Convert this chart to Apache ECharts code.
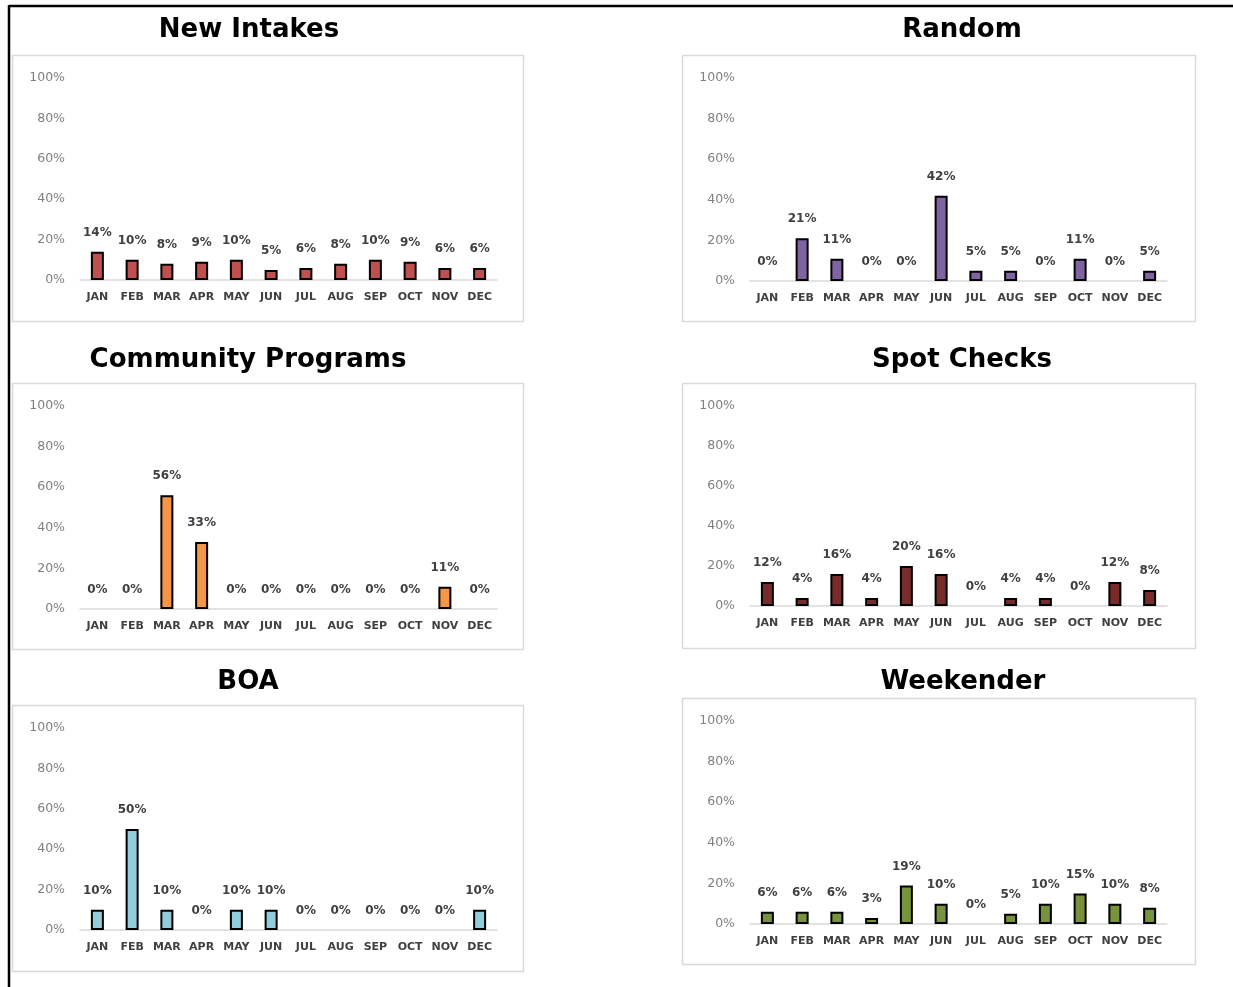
<!DOCTYPE html>
<html><head><meta charset="utf-8">
<script src="https://cdn.jsdelivr.net/npm/echarts@6/dist/echarts.min.js"></script>
<style>html,body{margin:0;padding:0;background:#fff}#c{width:1233px;height:987px}</style>
</head><body><div id="c"></div>
<script>
const months = ['JAN','FEB','MAR','APR','MAY','JUN','JUL','AUG','SEP','OCT','NOV','DEC'];
const yTicks = [0,20,40,60,80,100];
const newIntakes = [14,10,8,9,10,5,6,8,10,9,6,6];
const random = [0,21,11,0,0,42,5,5,0,11,0,5];
const communityPrograms = [0,0,56,33,0,0,0,0,0,0,11,0];
const spotChecks = [12,4,16,4,20,16,0,4,4,0,12,8];
const boa = [10,50,10,0,10,10,0,0,0,0,0,10];
const weekender = [6,6,6,3,19,10,0,5,10,15,10,8];

const panels = [
  {name:'New Intakes', data:newIntakes, color:'#C0504D', box:[12,55,511,266], grid:[80,78,417,202], tx:249, ty:28},
  {name:'Random', data:random, color:'#8064A2', box:[682,55,513,266], grid:[750,78,417,203], tx:962, ty:28},
  {name:'Community Programs', data:communityPrograms, color:'#F79646', box:[12,383,511,266], grid:[80,406,417,203], tx:248, ty:358},
  {name:'Spot Checks', data:spotChecks, color:'#772C2A', box:[682,383,513,265], grid:[750,406,417,200], tx:962, ty:358},
  {name:'BOA', data:boa, color:'#92CDDC', box:[12,705,511,266], grid:[80,728,417,202], tx:248, ty:680},
  {name:'Weekender', data:weekender, color:'#77933C', box:[682,698,513,266], grid:[750,721,417,203], tx:963, ty:680}
];

const graphic = [];
panels.forEach(p => {
  graphic.push({type:'rect', shape:{x:p.box[0]+0.5, y:p.box[1]+0.5, width:p.box[2], height:p.box[3]},
    style:{fill:'#fff', stroke:'#D9D9D9', lineWidth:1.5}, z:-10});
});
graphic.push({type:'line', shape:{x1:9, y1:6, x2:1233, y2:6}, style:{stroke:'#000', lineWidth:2.5}, z:10});
graphic.push({type:'line', shape:{x1:9, y1:5, x2:9, y2:987}, style:{stroke:'#000', lineWidth:2.5}, z:10});

const option = {
  animation:false,
  backgroundColor:'#fff',
  graphic: graphic,
  title: panels.map(p => ({
    text:p.name, left:p.tx, top:p.ty-11, textAlign:'center', padding:0,
    textStyle:{fontFamily:'DejaVu Sans', fontWeight:'bold', fontSize:26, color:'#000'}
  })),
  grid: panels.map(p => ({left:p.grid[0], top:p.grid[1], width:p.grid[2], height:p.grid[3], containLabel:false})),
  xAxis: panels.map((p,i) => ({
    type:'category', gridIndex:i, data:months,
    axisLine:{lineStyle:{color:'#D9D9D9', width:1.5}},
    axisTick:{show:false},
    axisLabel:{margin:12, fontFamily:'DejaVu Sans', fontWeight:'bold', fontSize:11, color:'#404040', interval:0}
  })),
  yAxis: panels.map((p,i) => ({
    type:'value', gridIndex:i, min:yTicks[0], max:yTicks[yTicks.length-1], interval:20,
    splitLine:{show:false}, axisLine:{show:false}, axisTick:{show:false},
    axisLabel:{margin:15, formatter:'{value}%', fontFamily:'DejaVu Sans', fontSize:12.5, color:'#808080'}
  })),
  series: panels.map((p,i) => ({
    type:'bar', xAxisIndex:i, yAxisIndex:i, barWidth:13,
    data: p.data.map(v => v === 0 ? {value:v, itemStyle:{borderWidth:0, opacity:0}, label:{show:true, opacity:1}} : v),
    itemStyle:{color:p.color, borderColor:'#000', borderWidth:2},
    label:{show:true, position:'top', distance:13, formatter:'{c}%', fontFamily:'DejaVu Sans', fontWeight:'bold', fontSize:12, color:'#404040'}
  }))
};
echarts.init(document.getElementById('c'), null, {renderer:'canvas'}).setOption(option);
</script>
</body></html>
